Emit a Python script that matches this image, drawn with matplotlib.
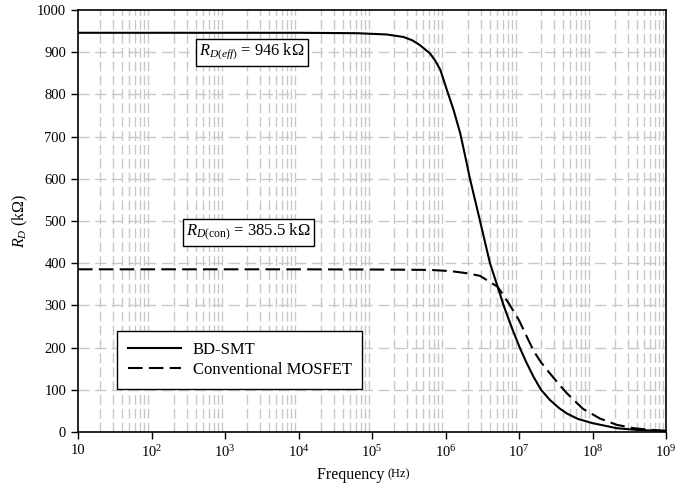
import numpy as np
import matplotlib
matplotlib.use("Agg")
import matplotlib.pyplot as plt
from matplotlib.ticker import FixedLocator, FuncFormatter

plt.rcParams['font.family'] = ['Liberation Serif', 'DejaVu Serif']
plt.rcParams['mathtext.fontset'] = 'custom'
plt.rcParams['mathtext.rm'] = 'Liberation Serif'
plt.rcParams['mathtext.it'] = 'Liberation Serif:italic'

# donnees (log10 de la frequence, R_D en kOhm)
logf_bd = [1.0, 4.0, 4.8, 5.2, 5.43, 5.55, 5.65, 5.79, 5.86, 5.93, 6.02, 6.11,
           6.20, 6.27, 6.333, 6.47, 6.605, 6.71, 6.79, 6.9, 7.01, 7.1, 7.2,
           7.3, 7.42, 7.55, 7.65, 7.8, 8.0, 8.33, 8.6, 9.0]
r_bd = [946, 946, 945, 942, 936, 928, 917, 897, 880, 858, 810, 763,
        708, 652, 600, 500, 400, 344, 300, 248, 200, 165, 130,
        100, 76, 56, 44, 31, 21, 9, 5, 2]

logf_conv = [1.0, 4.0, 5.0, 5.5, 5.8, 6.0, 6.13, 6.3, 6.47, 6.58, 6.71, 6.86,
             7.0, 7.1, 7.2, 7.3, 7.42, 7.55, 7.65, 7.87, 8.1, 8.33, 8.56, 8.8,
             9.0]
r_conv = [385.5, 385.5, 385, 384.5, 384, 382, 380, 376, 370, 358, 344, 305,
          265, 228, 192, 165, 139, 112, 92, 55, 32, 17, 9, 5, 3]

noms = ['BD-SMT', 'Conventional MOSFET']
decades = [1, 2, 3, 4, 5, 6, 7, 8, 9]

fig = plt.figure(figsize=(6.96, 4.91), dpi=100)
ax = fig.add_axes([78/696, 59/491, 588/696, 422/491])

f_bd = 10**np.array(logf_bd)
f_conv = 10**np.array(logf_conv)
ax.plot(f_bd, r_bd, color='k', lw=1.5, label=noms[0], zorder=3)
ax.plot(f_conv, r_conv, color='k', lw=1.5, dashes=(7, 3), label=noms[1], zorder=3)

ax.set_xscale('log')
ax.set_xlim(10, 1e9)
ax.set_ylim(0, 1000)
ax.set_yticks(np.arange(0, 1001, 100))

# grille : mineures en x, majeures en y
minors = [m * 10**d for d in decades[:-1] for m in range(2, 10)]
ax.xaxis.set_major_locator(FixedLocator([10**d for d in decades]))
ax.xaxis.set_minor_locator(FixedLocator(minors))
for x in minors:
    ax.axvline(x, color='#c8c8c8', lw=1, dashes=(7, 3), zorder=1)
for y in range(100, 1000, 100):
    ax.axhline(y, color='#c8c8c8', lw=1, dashes=(8, 4), zorder=1)
ax.tick_params(axis='x', which='minor', length=0)


def fmt(x, pos):
    k = int(round(np.log10(x)))
    if k == 1:
        return '10'
    return r'$10^{%d}$' % k


ax.xaxis.set_major_formatter(FuncFormatter(fmt))
ax.tick_params(axis='both', which='major', direction='out', length=5,
               width=1, labelsize=10.5, colors='k')
for s in ax.spines.values():
    s.set_linewidth(1.2)

ax.set_ylabel(r'$R_D$ (k$\Omega$)', fontsize=11.5, labelpad=5)
ax.text(0.527, -0.083, 'Frequency ', transform=ax.transAxes, ha='right',
        va='top', fontsize=11.5)
ax.text(0.527, -0.087, '(Hz)', transform=ax.transAxes, ha='left',
        va='top', fontsize=9)

boite = dict(boxstyle='square,pad=0.2', fc='white', ec='k', lw=1)
ax.text(2.3e3, 900, r'$R_{D(eff)}$ = 946 k$\Omega$', ha='center', va='center',
        fontsize=11.8, bbox=boite, zorder=4)
ax.text(2.1e3, 473, r'$R_{D(\mathrm{con})}$ = 385.5 k$\Omega$', ha='center',
        va='center', fontsize=12, bbox=boite, zorder=4)

leg = ax.legend(loc='upper left', bbox_to_anchor=(0.066, 0.24), fontsize=12,
                frameon=True, fancybox=False, edgecolor='k', framealpha=1,
                handlelength=3.2, handletextpad=0.7, borderpad=0.65,
                labelspacing=0.25, borderaxespad=0)
leg.get_frame().set_linewidth(1)

fig.savefig('out.png', dpi=100)
